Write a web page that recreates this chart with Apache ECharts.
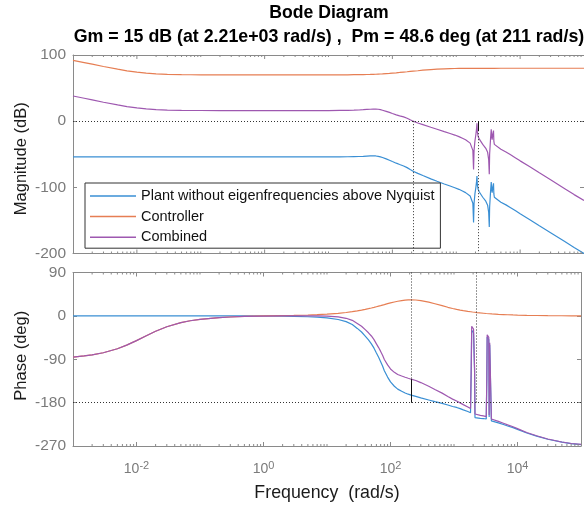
<!DOCTYPE html>
<html>
<head>
<meta charset="utf-8">
<script src="https://cdn.jsdelivr.net/npm/echarts@6.0.0/dist/echarts.min.js"></script>
<style>
  html, body { margin: 0; padding: 0; background: #fff; }
  #main { width: 584px; height: 506px; }
</style>
</head>
<body>
<div id="main"></div>
<script>
// frequency grid (rad/s), shared by all six curves
var freq = [0.001, 0.0015, 0.002, 0.003, 0.005, 0.007, 0.01, 0.014, 0.02, 0.03,
  0.05, 0.07, 0.1, 0.2, 0.3, 0.5, 1, 2, 3, 5,
  7, 10, 15, 20, 25, 30, 35, 40, 45, 50,
  55, 60, 65, 70, 75, 80, 90, 100, 115, 130,
  150, 170, 190, 211, 250, 300, 400, 500, 650, 800,
  950, 1100, 1250, 1400, 1650, 1750, 1820, 1866, 1900, 1960,
  2030, 2080, 2110, 2140, 2200, 2300, 2600, 2900, 3100, 3220,
  3290, 3330, 3450, 3530, 3580, 3650, 3720, 3830, 3880, 3950,
  4100, 5000, 6000, 7000, 8500, 10000, 14000, 20000, 30000, 50000,
  70000, 100000];

// magnitude (dB)
var plantMag = [-54, -54, -54, -54, -54, -54, -54, -54, -54, -54,
  -54, -54, -54, -54, -54, -54, -54, -54, -54, -54,
  -54, -54, -53.9, -53.8, -53.6, -53.4, -53.1, -52.8, -52.6, -52.5,
  -52.6, -53.1, -53.9, -55, -56, -57, -59, -61, -63.5, -65.5,
  -67.7, -70.2, -73.1, -75.6, -78.9, -82.2, -87.2, -90.8, -94.9, -98,
  -100.6, -103, -105.5, -108, -113, -116, -124, -153, -124, -110,
  -100, -91, -83, -96, -103, -107, -115, -121, -127, -138,
  -160, -130, -105, -92, -103, -108, -100, -94, -110, -115,
  -118, -122.5, -126.5, -130.5, -135.5, -140, -148.5, -158, -168.5, -182,
  -191, -200];
var ctrlMag = [92.0, 88.6, 86.1, 82.6, 78.6, 76.1, 74.1, 72.5, 71.5, 70.8,
  70.3, 70.15, 70.1, 70.0, 70.0, 70.0, 70.0, 70.0, 70.0, 70.0,
  70.0, 70.0, 70.1, 70.1, 70.2, 70.3, 70.4, 70.5, 70.6, 70.8,
  70.9, 71.1, 71.3, 71.5, 71.7, 71.9, 72.2, 72.6, 73.1, 73.6,
  74.2, 74.7, 75.2, 75.6, 76.2, 77.0, 78.0, 78.6, 79.1, 79.4,
  79.6, 79.7, 79.7, 79.8, 79.8, 79.8, 79.8, 79.8, 79.8, 79.8,
  79.8, 79.8, 79.8, 79.8, 79.8, 79.8, 79.9, 79.9, 79.9, 79.9,
  79.9, 79.9, 79.9, 79.9, 79.9, 79.9, 79.9, 79.9, 79.9, 79.9,
  79.9, 80, 80, 80, 80, 80, 80, 80, 80, 80,
  80, 80];
var combMag = [38.0, 34.6, 32.1, 28.6, 24.6, 22.1, 20.1, 18.5, 17.5, 16.8,
  16.3, 16.15, 16.1, 16.0, 16.0, 16.0, 16.0, 16.0, 16.0, 16.0,
  16.0, 16.0, 16.2, 16.3, 16.6, 16.9, 17.3, 17.7, 18.0, 18.3,
  18.3, 18.0, 17.4, 16.5, 15.7, 14.9, 13.2, 11.6, 9.6, 8.1,
  6.5, 4.5, 2.1, 0, -2.7, -5.2, -9.2, -12.2, -15.8, -18.6,
  -21.0, -23.3, -25.8, -28.2, -33.2, -36.2, -44.2, -73.2, -44.2, -30.2,
  -20.2, -11.2, -3.2, -16.2, -23.2, -27.2, -35.1, -41.1, -47.1, -58.1,
  -80.1, -50.1, -25.1, -12.1, -23.1, -28.1, -20.1, -14.1, -30.1, -35.1,
  -38.1, -42.5, -46.5, -50.5, -55.5, -60, -68.5, -78, -88.5, -102,
  -111, -120];

// phase (deg)
var plantPhase = [0, 0, 0, 0, 0, 0, 0, 0, 0, 0,
  0, 0, 0, 0, 0, 0, -0.3, -0.7, -1.0, -1.8,
  -2.6, -4, -7.5, -12, -18, -26, -33.5, -42, -50, -58,
  -67, -77, -86, -95, -104, -114, -127, -137, -146, -152,
  -156.5, -160, -162.5, -164.5, -167, -170, -174.5, -178, -181.5, -185,
  -188, -190, -192.5, -195, -198.5, -199.5, -201, -118, -30, -32,
  -35, -38, -118, -211, -211.5, -212, -212.5, -213, -213.5, -214,
  -130, -44, -46, -49, -210, -60, -58, -62, -218, -219,
  -220, -222, -225.5, -228.5, -232, -235.5, -243, -249.5, -256, -262,
  -265, -267];
var ctrlPhase = [-85.5, -83.1, -80.9, -76.5, -68.2, -60.7, -51.3, -41.8, -32.0, -22.6,
  -14.0, -10.1, -7.1, -3.6, -2.3, -1.2, -0.2, 0.6, 1.0, 1.8,
  2.5, 3.5, 5.3, 7.0, 8.7, 10.3, 11.9, 13.4, 14.9, 16.3,
  17.7, 19.0, 20.2, 21.3, 22.4, 23.4, 25.3, 26.9, 28.8, 30.3,
  31.7, 32.6, 33.0, 33.1, 32.9, 31.6, 28.5, 25.2, 21.2, 17.8,
  15.3, 13.4, 12.0, 10.9, 9.4, 9.0, 8.6, 8.4, 8.2, 8.0,
  7.8, 7.6, 7.5, 7.4, 7.2, 6.9, 6.1, 5.5, 5.1, 4.9,
  4.8, 4.8, 4.6, 4.5, 4.4, 4.3, 4.3, 4.2, 4.1, 4.0,
  3.9, 3.2, 2.7, 2.3, 1.9, 1.6, 1.1, 0.8, 0.5, 0.3,
  0.2, 0.2];
var combPhase = [-85.5, -83.1, -80.9, -76.5, -68.2, -60.7, -51.3, -41.8, -32.0, -22.6,
  -14.0, -10.1, -7.1, -3.6, -2.3, -1.2, -0.5, -0.1, 0, 0,
  -0.1, -0.5, -2.2, -5.0, -9.3, -15.7, -21.6, -28.6, -35.1, -41.7,
  -49.3, -58.0, -65.8, -73.7, -81.6, -90.6, -101.7, -110.1, -117.2, -121.7,
  -124.8, -127.4, -129.5, -131.4, -134.1, -138.4, -146.0, -152.8, -160.3, -167.2,
  -172.7, -176.6, -180.5, -184.1, -189.1, -190.5, -192.4, -109.6, -21.8, -24.0,
  -27.2, -30.4, -110.5, -203.6, -204.3, -205.1, -206.4, -207.5, -208.4, -209.1,
  -125.2, -39.2, -41.4, -44.5, -205.6, -55.7, -53.7, -57.8, -213.9, -215.0,
  -216.1, -218.8, -222.8, -226.2, -230.1, -233.9, -241.9, -248.7, -255.5, -261.7,
  -264.8, -266.8];

// margins from the title
var gmDb = 15, wcg = 2210;
var pmDeg = 48.6, wcp = 211;

// axes
var freqRange = [1e-3, 1e5];
var magRange = [-200, 100], magStep = 100;
var phaseRange = [-270, 90], phaseStep = 90;
var decades = [-3, -2, -1, 0, 1, 2, 3, 4];
var minorMultipliers = [2, 3, 4, 5, 6, 7, 8, 9];
var labelledDecades = [-2, 0, 2, 4];

var names = ['Plant without eigenfrequencies above Nyquist', 'Controller', 'Combined'];
var colors = ['#3a8fd4', '#e67e53', '#9e58b0'];

var FONT = '"Liberation Sans", Arial, Helvetica, sans-serif';
var AXIS_GREY = '#8a8a8a';
var LABEL_GREY = '#7b7b7b';

// frequency tick marks: long ones at the labelled decades, short ones elsewhere
var freqTicks = [];
decades.forEach(function (e) {
  var d = Math.pow(10, e);
  if (labelledDecades.indexOf(e) >= 0) freqTicks.push([d, 4]);
  else if (e > decades[0]) freqTicks.push([d, 2]);
  minorMultipliers.forEach(function (m) { freqTicks.push([m * d, 2]); });
});

function pairs(ys) {
  return freq.map(function (f, i) { return [f, ys[i]]; });
}

var chart = echarts.init(document.getElementById('main'), null, { renderer: 'canvas' });

function xAxisFor(gridIndex, position, showLabels) {
  return {
    type: 'log', logBase: 10, gridIndex: gridIndex, position: position,
    min: freqRange[0], max: freqRange[1], splitNumber: 8,
    axisLine: { show: true, onZero: false, lineStyle: { color: AXIS_GREY, width: 1 } },
    axisTick: { show: false },
    splitLine: { show: false },
    axisLabel: {
      show: showLabels, margin: 14, color: LABEL_GREY, fontFamily: FONT,
      formatter: function (v) {
        var e = Math.round(Math.log10(v));
        return labelledDecades.indexOf(e) >= 0 ? '{b|10}{s|' + e + '}' : '';
      },
      rich: {
        b: { fontSize: 14, fontFamily: FONT, color: LABEL_GREY, lineHeight: 16, verticalAlign: 'bottom' },
        s: { fontSize: 11, fontFamily: FONT, color: LABEL_GREY, lineHeight: 16, verticalAlign: 'top' }
      }
    },
    name: showLabels ? 'Frequency  (rad/s)' : '',
    nameLocation: 'middle', nameGap: 38, nameMoveOverlap: false,
    nameTextStyle: { fontSize: 17.8, fontFamily: FONT, color: '#1a1a1a' }
  };
}

function yAxisFor(gridIndex, position, range, step, name, namePad) {
  var left = position === 'left';
  return {
    type: 'value', gridIndex: gridIndex, position: position,
    min: range[0], max: range[1], interval: step,
    axisLine: { show: true, onZero: false, lineStyle: { color: AXIS_GREY, width: 1 } },
    axisTick: { show: true, inside: true, length: 4, lineStyle: { color: AXIS_GREY } },
    splitLine: { show: false },
    axisLabel: { show: left, margin: 7, color: LABEL_GREY, fontSize: 15.5, fontFamily: FONT },
    name: left ? name : '',
    nameLocation: 'middle', nameGap: 43, nameMoveOverlap: false,
    nameTextStyle: { fontSize: 16.5, fontFamily: FONT, color: '#1a1a1a', padding: namePad || 0 }
  };
}

var dotted = { color: '#333', width: 1, type: [1, 2] };
var solid = { color: '#111', width: 1, type: 'solid' };

function tickSeries(xi, yi, yMin) {
  return {
    type: 'custom', xAxisIndex: xi, yAxisIndex: yi, silent: true, z: 3,
    data: freqTicks.map(function (t) { return [t[0], yMin, t[1]]; }),
    renderItem: function (params, api) {
      var x = api.coord([api.value(0), api.value(1)])[0];
      var len = api.value(2);
      var cs = params.coordSys;
      var st = { stroke: AXIS_GREY, lineWidth: 1 };
      return {
        type: 'group',
        children: [
          { type: 'line', shape: { x1: x, y1: cs.y + cs.height, x2: x, y2: cs.y + cs.height - len }, style: st },
          { type: 'line', shape: { x1: x, y1: cs.y, x2: x, y2: cs.y + len }, style: st }
        ]
      };
    }
  };
}

function lineSeries(k, xi, yi, ys, markLine) {
  var s = {
    name: names[k], type: 'line', xAxisIndex: xi, yAxisIndex: yi,
    data: pairs(ys), showSymbol: false, symbol: 'none', smooth: false,
    lineStyle: { color: colors[k], width: 1.2 }, itemStyle: { color: colors[k] },
    clip: true, z: 2 + k * 0.1
  };
  if (markLine) s.markLine = markLine;
  return s;
}

var magMarks = {
  silent: true, symbol: ['none', 'none'], label: { show: false }, animation: false,
  data: [
    [{ coord: [freqRange[0], 0], lineStyle: dotted }, { coord: [freqRange[1], 0] }],
    [{ coord: [wcp, 0], lineStyle: dotted }, { coord: [wcp, magRange[0]] }],
    [{ coord: [wcg, 0], lineStyle: dotted }, { coord: [wcg, magRange[0]] }],
    [{ coord: [wcg, 0], lineStyle: solid }, { coord: [wcg, -gmDb] }]
  ]
};
var phaseMarks = {
  silent: true, symbol: ['none', 'none'], label: { show: false }, animation: false,
  data: [
    [{ coord: [freqRange[0], -180], lineStyle: dotted }, { coord: [freqRange[1], -180] }],
    [{ coord: [wcp, phaseRange[1]], lineStyle: dotted }, { coord: [wcp, -180] }],
    [{ coord: [wcg, phaseRange[1]], lineStyle: dotted }, { coord: [wcg, -180] }],
    [{ coord: [wcp, -180], lineStyle: solid }, { coord: [wcp, -180 + pmDeg] }]
  ]
};

var option = {
  animation: false,
  backgroundColor: '#fff',
  title: {
    text: 'Bode Diagram',
    subtext: 'Gm = 15 dB (at 2.21e+03 rad/s) ,  Pm = 48.6 deg (at 211 rad/s)',
    left: 329, top: 3, padding: 0, textAlign: 'center', itemGap: 4,
    textStyle: { fontSize: 17.6, fontWeight: 'bold', fontFamily: FONT, color: '#000', lineHeight: 20 },
    subtextStyle: { fontSize: 17.8, fontWeight: 'bold', fontFamily: FONT, color: '#000', lineHeight: 20 }
  },
  legend: {
    data: names, orient: 'vertical', left: 85, top: 183,
    icon: 'rect', itemWidth: 46, itemHeight: 1.5, itemGap: 4.6,
    padding: [5, 6, 3, 5],
    backgroundColor: '#fff', borderColor: '#333', borderWidth: 1, borderRadius: 0,
    selectedMode: false,
    textStyle: { fontSize: 14.5, fontFamily: FONT, color: '#111', lineHeight: 16 }
  },
  grid: [
    { left: 73, top: 55, width: 513, height: 198.5 },
    { left: 73, top: 272.5, width: 513, height: 173.5 }
  ],
  xAxis: [
    xAxisFor(0, 'bottom', false),
    xAxisFor(0, 'top', false),
    xAxisFor(1, 'bottom', true),
    xAxisFor(1, 'top', false)
  ],
  yAxis: [
    yAxisFor(0, 'left', magRange, magStep, 'Magnitude (dB)', [0, 9, 0, 0]),
    yAxisFor(0, 'right', magRange, magStep, ''),
    yAxisFor(1, 'left', phaseRange, phaseStep, 'Phase (deg)', [0, 0, 0, 7]),
    yAxisFor(1, 'right', phaseRange, phaseStep, '')
  ],
  series: [
    tickSeries(0, 0, magRange[0]),
    tickSeries(2, 2, phaseRange[0]),
    lineSeries(0, 0, 0, plantMag, magMarks),
    lineSeries(1, 0, 0, ctrlMag),
    lineSeries(2, 0, 0, combMag),
    lineSeries(0, 2, 2, plantPhase, phaseMarks),
    lineSeries(1, 2, 2, ctrlPhase),
    lineSeries(2, 2, 2, combPhase)
  ]
};

chart.setOption(option);
</script>
</body>
</html>
